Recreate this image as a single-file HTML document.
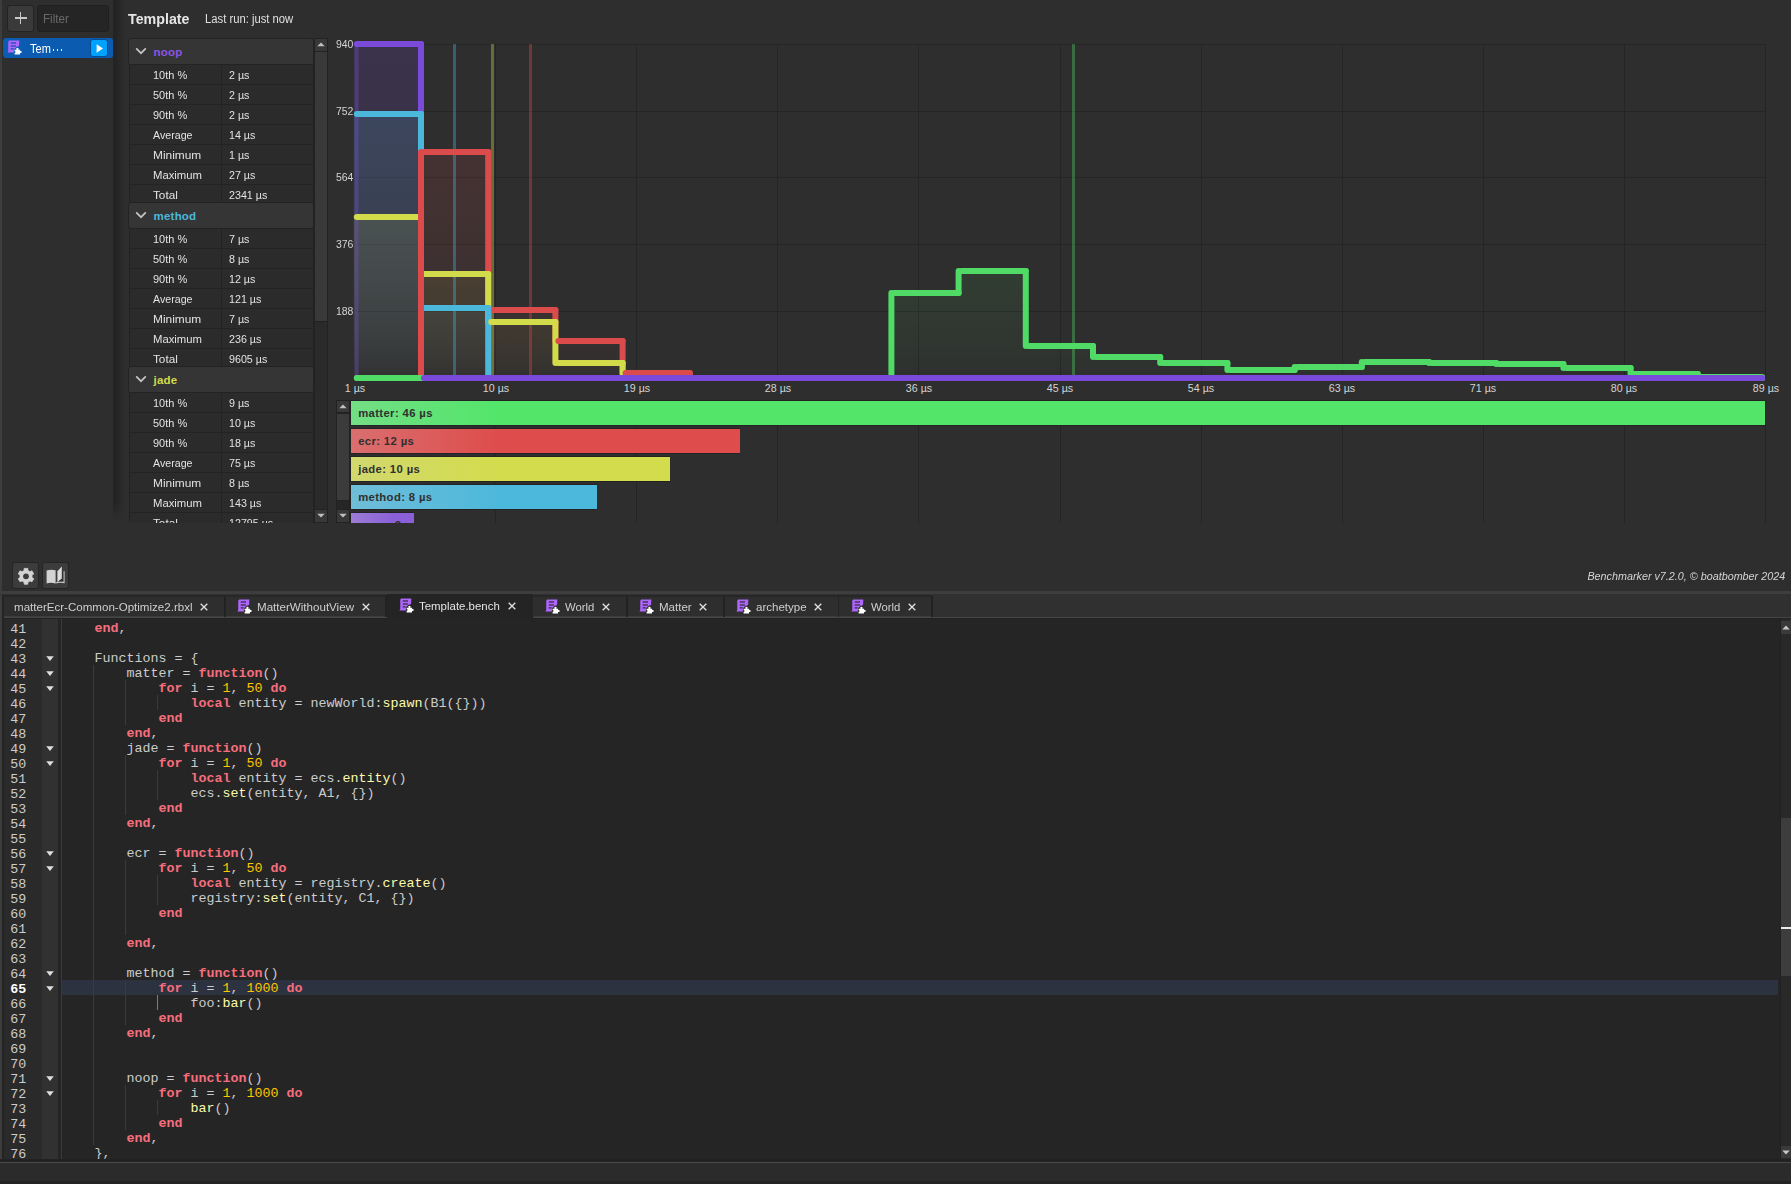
<!DOCTYPE html><html><head><meta charset="utf-8"><title>Benchmarker</title><style>
*{box-sizing:border-box;margin:0;padding:0}
html,body{width:1791px;height:1184px;overflow:hidden;background:#2e2e2e}
body{position:relative;font-family:"Liberation Sans",sans-serif;color:#e0e0e0;font-size:12px}
.a{position:absolute}
.t{position:absolute;white-space:nowrap;line-height:1;transform-origin:0 50%}
.tr{position:absolute;white-space:nowrap;line-height:1;transform-origin:100% 50%}
.tc{position:absolute;white-space:nowrap;line-height:1;transform-origin:50% 50%}
.btn{position:absolute;background:#3a3a3a;border:1px solid #232323;border-radius:3px}
.hdr{position:absolute;left:128px;width:186px;height:26.5px;background:#353535;border:1px solid #232323;border-radius:3px}
.row{position:absolute;left:129px;width:185px;height:21px;background:#2b2b2b;border:1px solid #232323}
.row i{position:absolute;left:91px;top:0;width:1px;height:19px;background:#232323}
.mono{font-family:"Liberation Mono",monospace}
.ln{position:absolute;left:0;white-space:pre;font-family:"Liberation Mono",monospace;font-size:13.33px;line-height:15px;height:15px;color:#cccccc}
.k{color:#f86d7c;font-weight:bold}
.n{color:#ffc600}
.f{color:#fdfbac}
</style></head><body>
<div class="a" style="left:0px;top:0px;width:2px;height:1184px;background:#3d3d3d;"></div>
<div class="a" style="left:113px;top:0px;width:12px;height:520px;background:linear-gradient(to right,rgba(0,0,0,.20),rgba(0,0,0,.24) 18%,rgba(0,0,0,.10) 60%,rgba(0,0,0,0));-webkit-mask-image:linear-gradient(to bottom,#000 0,#000 96.5%,transparent 100%);mask-image:linear-gradient(to bottom,#000 0,#000 96.5%,transparent 100%);"></div>
<div class="btn" style="left:7px;top:5px;width:27px;height:27px"></div>
<div class="a" style="left:14.5px;top:17.4px;width:12px;height:1.6px;background:#c8c8c8;"></div>
<div class="a" style="left:19.7px;top:12.2px;width:1.6px;height:12px;background:#c8c8c8;"></div>
<div class="a" style="left:37px;top:5px;width:72px;height:27px;background:#252525;border:1px solid #202020;border-radius:3px"></div>
<div class="t" style="top:12.65px;font-size:12.5px;color:#6a6a6a;left:43.2px;transform:scaleX(0.93);">Filter</div>
<div class="a" style="left:3px;top:38px;width:110px;height:20px;background:#0b5cb1;border-radius:3px"></div>
<svg class="a" style="left:7.4px;top:40.3px" width="16.0" height="16.0" viewBox="0 0 16 16"><path d="M2.1 0.5H12.35L12.05 6.1L9.2 7.0L6.9 9.5V12.5H0.5L1.25 10.7V1.8Z" fill="#ae66fc"/><rect x="3.7" y="2.45" width="5.3" height="1.1" fill="#084a96"/><rect x="3.7" y="5.45" width="5.2" height="1.1" fill="#084a96"/><rect x="3.7" y="8.35" width="3.0" height="1.1" fill="#084a96"/><path d="M7.6 9.7H9.6A1.15 1.15 0 1 1 11.3 9.7H13V10.9A1.15 1.15 0 1 1 13 12.9V14.5H7.6V12.8A0.9 0.9 0 1 0 7.6 11Z" fill="#fff"/></svg>
<div class="t" style="top:43.40px;font-size:12px;color:#ffffff;left:30px;transform:scaleX(0.92);">Tem</div>
<div class="a" style="left:53.1px;top:49.3px;width:1.3px;height:1.6px;background:#e8f0fa;"></div>
<div class="a" style="left:57.0px;top:49.3px;width:1.3px;height:1.6px;background:#e8f0fa;"></div>
<div class="a" style="left:60.9px;top:49.3px;width:1.3px;height:1.6px;background:#e8f0fa;"></div>
<div class="a" style="left:90px;top:39px;width:18px;height:18px;background:#00a2ff;border:1px solid #0a4a8e;border-radius:3px"></div>
<svg class="a" style="left:95.6px;top:43.5px" width="8" height="9" viewBox="0 0 8 9"><path d="M0.6 0.3L7 4.5L0.6 8.7z" fill="#fff"/></svg>
<div class="t" style="top:11.05px;font-size:15.5px;color:#e6e6e6;font-weight:bold;left:128px;transform:scaleX(0.9193);">Template</div>
<div class="t" style="top:12.80px;font-size:12px;color:#e0e0e0;left:205.2px;transform:scaleX(0.9378);">Last run: just now</div>
<div class="a" style="left:0;top:38px;width:330px;height:485px;overflow:hidden">
<div class="row" style="top:26.3px"><i></i></div>
<div class="t" style="top:31.55px;font-size:11.5px;color:#e2e2e2;left:153px;transform:scaleX(0.9552);">10th %</div>
<div class="t" style="top:31.55px;font-size:11.5px;color:#e2e2e2;left:229px;transform:scaleX(0.93);">2 µs</div>
<div class="row" style="top:46.3px"><i></i></div>
<div class="t" style="top:51.55px;font-size:11.5px;color:#e2e2e2;left:153px;transform:scaleX(0.9552);">50th %</div>
<div class="t" style="top:51.55px;font-size:11.5px;color:#e2e2e2;left:229px;transform:scaleX(0.93);">2 µs</div>
<div class="row" style="top:66.3px"><i></i></div>
<div class="t" style="top:71.55px;font-size:11.5px;color:#e2e2e2;left:153px;transform:scaleX(0.9552);">90th %</div>
<div class="t" style="top:71.55px;font-size:11.5px;color:#e2e2e2;left:229px;transform:scaleX(0.93);">2 µs</div>
<div class="row" style="top:86.3px"><i></i></div>
<div class="t" style="top:91.55px;font-size:11.5px;color:#e2e2e2;left:153px;transform:scaleX(0.9266);">Average</div>
<div class="t" style="top:91.55px;font-size:11.5px;color:#e2e2e2;left:229px;transform:scaleX(0.93);">14 µs</div>
<div class="row" style="top:106.3px"><i></i></div>
<div class="t" style="top:111.55px;font-size:11.5px;color:#e2e2e2;left:153px;transform:scaleX(1.0334);">Minimum</div>
<div class="t" style="top:111.55px;font-size:11.5px;color:#e2e2e2;left:229px;transform:scaleX(0.93);">1 µs</div>
<div class="row" style="top:126.3px"><i></i></div>
<div class="t" style="top:131.55px;font-size:11.5px;color:#e2e2e2;left:153px;transform:scaleX(0.9832);">Maximum</div>
<div class="t" style="top:131.55px;font-size:11.5px;color:#e2e2e2;left:229px;transform:scaleX(0.93);">27 µs</div>
<div class="row" style="top:146.3px"><i></i></div>
<div class="t" style="top:151.55px;font-size:11.5px;color:#e2e2e2;left:153px;transform:scaleX(1.0209);">Total</div>
<div class="t" style="top:151.55px;font-size:11.5px;color:#e2e2e2;left:229px;transform:scaleX(0.93);">2341 µs</div>
<div class="row" style="top:190.3px"><i></i></div>
<div class="t" style="top:195.55px;font-size:11.5px;color:#e2e2e2;left:153px;transform:scaleX(0.9552);">10th %</div>
<div class="t" style="top:195.55px;font-size:11.5px;color:#e2e2e2;left:229px;transform:scaleX(0.93);">7 µs</div>
<div class="row" style="top:210.3px"><i></i></div>
<div class="t" style="top:215.55px;font-size:11.5px;color:#e2e2e2;left:153px;transform:scaleX(0.9552);">50th %</div>
<div class="t" style="top:215.55px;font-size:11.5px;color:#e2e2e2;left:229px;transform:scaleX(0.93);">8 µs</div>
<div class="row" style="top:230.3px"><i></i></div>
<div class="t" style="top:235.55px;font-size:11.5px;color:#e2e2e2;left:153px;transform:scaleX(0.9552);">90th %</div>
<div class="t" style="top:235.55px;font-size:11.5px;color:#e2e2e2;left:229px;transform:scaleX(0.93);">12 µs</div>
<div class="row" style="top:250.3px"><i></i></div>
<div class="t" style="top:255.55px;font-size:11.5px;color:#e2e2e2;left:153px;transform:scaleX(0.9266);">Average</div>
<div class="t" style="top:255.55px;font-size:11.5px;color:#e2e2e2;left:229px;transform:scaleX(0.93);">121 µs</div>
<div class="row" style="top:270.3px"><i></i></div>
<div class="t" style="top:275.55px;font-size:11.5px;color:#e2e2e2;left:153px;transform:scaleX(1.0334);">Minimum</div>
<div class="t" style="top:275.55px;font-size:11.5px;color:#e2e2e2;left:229px;transform:scaleX(0.93);">7 µs</div>
<div class="row" style="top:290.3px"><i></i></div>
<div class="t" style="top:295.55px;font-size:11.5px;color:#e2e2e2;left:153px;transform:scaleX(0.9832);">Maximum</div>
<div class="t" style="top:295.55px;font-size:11.5px;color:#e2e2e2;left:229px;transform:scaleX(0.93);">236 µs</div>
<div class="row" style="top:310.3px"><i></i></div>
<div class="t" style="top:315.55px;font-size:11.5px;color:#e2e2e2;left:153px;transform:scaleX(1.0209);">Total</div>
<div class="t" style="top:315.55px;font-size:11.5px;color:#e2e2e2;left:229px;transform:scaleX(0.93);">9605 µs</div>
<div class="row" style="top:354.3px"><i></i></div>
<div class="t" style="top:359.55px;font-size:11.5px;color:#e2e2e2;left:153px;transform:scaleX(0.9552);">10th %</div>
<div class="t" style="top:359.55px;font-size:11.5px;color:#e2e2e2;left:229px;transform:scaleX(0.93);">9 µs</div>
<div class="row" style="top:374.3px"><i></i></div>
<div class="t" style="top:379.55px;font-size:11.5px;color:#e2e2e2;left:153px;transform:scaleX(0.9552);">50th %</div>
<div class="t" style="top:379.55px;font-size:11.5px;color:#e2e2e2;left:229px;transform:scaleX(0.93);">10 µs</div>
<div class="row" style="top:394.3px"><i></i></div>
<div class="t" style="top:399.55px;font-size:11.5px;color:#e2e2e2;left:153px;transform:scaleX(0.9552);">90th %</div>
<div class="t" style="top:399.55px;font-size:11.5px;color:#e2e2e2;left:229px;transform:scaleX(0.93);">18 µs</div>
<div class="row" style="top:414.3px"><i></i></div>
<div class="t" style="top:419.55px;font-size:11.5px;color:#e2e2e2;left:153px;transform:scaleX(0.9266);">Average</div>
<div class="t" style="top:419.55px;font-size:11.5px;color:#e2e2e2;left:229px;transform:scaleX(0.93);">75 µs</div>
<div class="row" style="top:434.3px"><i></i></div>
<div class="t" style="top:439.55px;font-size:11.5px;color:#e2e2e2;left:153px;transform:scaleX(1.0334);">Minimum</div>
<div class="t" style="top:439.55px;font-size:11.5px;color:#e2e2e2;left:229px;transform:scaleX(0.93);">8 µs</div>
<div class="row" style="top:454.3px"><i></i></div>
<div class="t" style="top:459.55px;font-size:11.5px;color:#e2e2e2;left:153px;transform:scaleX(0.9832);">Maximum</div>
<div class="t" style="top:459.55px;font-size:11.5px;color:#e2e2e2;left:229px;transform:scaleX(0.93);">143 µs</div>
<div class="row" style="top:474.3px"><i></i></div>
<div class="t" style="top:479.55px;font-size:11.5px;color:#e2e2e2;left:153px;transform:scaleX(1.0209);">Total</div>
<div class="t" style="top:479.55px;font-size:11.5px;color:#e2e2e2;left:229px;transform:scaleX(0.93);">12795 µs</div>
<div class="hdr" style="top:0.2px"></div>
<svg class="a" style="left:135px;top:9.0px" width="12" height="8" viewBox="0 0 12 8"><path d="M1.2 1.4L6 6.2L10.8 1.4" stroke="#c4c4c4" stroke-width="1.7" fill="none"/></svg>
<div class="t" style="top:9.15px;font-size:11.5px;color:#8a55e6;font-weight:bold;left:153.6px;letter-spacing:.2px;">noop</div>
<div class="hdr" style="top:164.2px"></div>
<svg class="a" style="left:135px;top:173.0px" width="12" height="8" viewBox="0 0 12 8"><path d="M1.2 1.4L6 6.2L10.8 1.4" stroke="#c4c4c4" stroke-width="1.7" fill="none"/></svg>
<div class="t" style="top:173.15px;font-size:11.5px;color:#4bb7db;font-weight:bold;left:153.6px;letter-spacing:.2px;">method</div>
<div class="hdr" style="top:328.2px"></div>
<svg class="a" style="left:135px;top:337.0px" width="12" height="8" viewBox="0 0 12 8"><path d="M1.2 1.4L6 6.2L10.8 1.4" stroke="#c4c4c4" stroke-width="1.7" fill="none"/></svg>
<div class="t" style="top:337.15px;font-size:11.5px;color:#d2dc4b;font-weight:bold;left:153.6px;letter-spacing:.2px;">jade</div>
</div>
<div class="a" style="left:314.2px;top:38px;width:13.4px;height:484.6px;background:#2a2a2a;border:1px solid #222;"></div>
<div class="a" style="left:314.2px;top:50.8px;width:13.4px;height:271.7px;background:#393939;border:1px solid #222;"></div>
<div class="a" style="left:314.2px;top:38px;width:13.4px;height:13.8px;background:#383838;border:1px solid #222;"></div>
<div class="a" style="left:314.2px;top:508.8px;width:13.4px;height:13.8px;background:#383838;border:1px solid #222;"></div>
<svg class="a" style="left:316.9px;top:42.4px" width="8" height="5" viewBox="0 0 8 5"><path d="M0.3 4.3L4 0.6L7.7 4.3z" fill="#c0c0c0"/></svg>
<svg class="a" style="left:316.9px;top:513.2px" width="8" height="5" viewBox="0 0 8 5"><path d="M0.3 0.7L4 4.4L7.7 0.7z" fill="#c0c0c0"/></svg>
<svg class="a" style="left:0;top:0" width="1791" height="396" viewBox="0 0 1791 396">
<defs>
<linearGradient id="g_red" gradientUnits="userSpaceOnUse" x1="0" y1="44.0" x2="0" y2="378.0"><stop offset="0" stop-color="#db4b4b" stop-opacity="0.1720"/><stop offset="0.15" stop-color="#db4b4b" stop-opacity="0.1560"/><stop offset="0.3" stop-color="#db4b4b" stop-opacity="0.1389"/><stop offset="0.45" stop-color="#db4b4b" stop-opacity="0.1202"/><stop offset="0.6" stop-color="#db4b4b" stop-opacity="0.0993"/><stop offset="0.72" stop-color="#db4b4b" stop-opacity="0.0801"/><stop offset="0.82" stop-color="#db4b4b" stop-opacity="0.0615"/><stop offset="0.9" stop-color="#db4b4b" stop-opacity="0.0432"/><stop offset="0.95" stop-color="#db4b4b" stop-opacity="0.0285"/><stop offset="0.98" stop-color="#db4b4b" stop-opacity="0.0164"/><stop offset="1" stop-color="#db4b4b" stop-opacity="0.0000"/></linearGradient>
<linearGradient id="g_yellow" gradientUnits="userSpaceOnUse" x1="0" y1="44.0" x2="0" y2="378.0"><stop offset="0" stop-color="#d2dc4b" stop-opacity="0.1720"/><stop offset="0.15" stop-color="#d2dc4b" stop-opacity="0.1560"/><stop offset="0.3" stop-color="#d2dc4b" stop-opacity="0.1389"/><stop offset="0.45" stop-color="#d2dc4b" stop-opacity="0.1202"/><stop offset="0.6" stop-color="#d2dc4b" stop-opacity="0.0993"/><stop offset="0.72" stop-color="#d2dc4b" stop-opacity="0.0801"/><stop offset="0.82" stop-color="#d2dc4b" stop-opacity="0.0615"/><stop offset="0.9" stop-color="#d2dc4b" stop-opacity="0.0432"/><stop offset="0.95" stop-color="#d2dc4b" stop-opacity="0.0285"/><stop offset="0.98" stop-color="#d2dc4b" stop-opacity="0.0164"/><stop offset="1" stop-color="#d2dc4b" stop-opacity="0.0000"/></linearGradient>
<linearGradient id="g_cyan" gradientUnits="userSpaceOnUse" x1="0" y1="44.0" x2="0" y2="378.0"><stop offset="0" stop-color="#4bb7db" stop-opacity="0.1720"/><stop offset="0.15" stop-color="#4bb7db" stop-opacity="0.1560"/><stop offset="0.3" stop-color="#4bb7db" stop-opacity="0.1389"/><stop offset="0.45" stop-color="#4bb7db" stop-opacity="0.1202"/><stop offset="0.6" stop-color="#4bb7db" stop-opacity="0.0993"/><stop offset="0.72" stop-color="#4bb7db" stop-opacity="0.0801"/><stop offset="0.82" stop-color="#4bb7db" stop-opacity="0.0615"/><stop offset="0.9" stop-color="#4bb7db" stop-opacity="0.0432"/><stop offset="0.95" stop-color="#4bb7db" stop-opacity="0.0285"/><stop offset="0.98" stop-color="#4bb7db" stop-opacity="0.0164"/><stop offset="1" stop-color="#4bb7db" stop-opacity="0.0000"/></linearGradient>
<linearGradient id="g_green" gradientUnits="userSpaceOnUse" x1="0" y1="44.0" x2="0" y2="378.0"><stop offset="0" stop-color="#4fdb65" stop-opacity="0.1720"/><stop offset="0.15" stop-color="#4fdb65" stop-opacity="0.1560"/><stop offset="0.3" stop-color="#4fdb65" stop-opacity="0.1389"/><stop offset="0.45" stop-color="#4fdb65" stop-opacity="0.1202"/><stop offset="0.6" stop-color="#4fdb65" stop-opacity="0.0993"/><stop offset="0.72" stop-color="#4fdb65" stop-opacity="0.0801"/><stop offset="0.82" stop-color="#4fdb65" stop-opacity="0.0615"/><stop offset="0.9" stop-color="#4fdb65" stop-opacity="0.0432"/><stop offset="0.95" stop-color="#4fdb65" stop-opacity="0.0285"/><stop offset="0.98" stop-color="#4fdb65" stop-opacity="0.0164"/><stop offset="1" stop-color="#4fdb65" stop-opacity="0.0000"/></linearGradient>
<linearGradient id="g_purple" gradientUnits="userSpaceOnUse" x1="0" y1="44.0" x2="0" y2="378.0"><stop offset="0" stop-color="#7a4bdb" stop-opacity="0.1720"/><stop offset="0.15" stop-color="#7a4bdb" stop-opacity="0.1560"/><stop offset="0.3" stop-color="#7a4bdb" stop-opacity="0.1389"/><stop offset="0.45" stop-color="#7a4bdb" stop-opacity="0.1202"/><stop offset="0.6" stop-color="#7a4bdb" stop-opacity="0.0993"/><stop offset="0.72" stop-color="#7a4bdb" stop-opacity="0.0801"/><stop offset="0.82" stop-color="#7a4bdb" stop-opacity="0.0615"/><stop offset="0.9" stop-color="#7a4bdb" stop-opacity="0.0432"/><stop offset="0.95" stop-color="#7a4bdb" stop-opacity="0.0285"/><stop offset="0.98" stop-color="#7a4bdb" stop-opacity="0.0164"/><stop offset="1" stop-color="#7a4bdb" stop-opacity="0.0000"/></linearGradient>
<clipPath id="cc"><rect x="353" y="36" width="1412" height="350"/></clipPath>
</defs>
<rect x="355" y="44" width="1411" height="1" fill="#252525"/>
<rect x="355" y="111" width="1411" height="1" fill="#252525"/>
<rect x="355" y="177" width="1411" height="1" fill="#252525"/>
<rect x="355" y="244" width="1411" height="1" fill="#252525"/>
<rect x="355" y="311" width="1411" height="1" fill="#252525"/>
<rect x="495" y="44" width="1" height="334" fill="#252525"/>
<rect x="636" y="44" width="1" height="334" fill="#252525"/>
<rect x="777" y="44" width="1" height="334" fill="#252525"/>
<rect x="918" y="44" width="1" height="334" fill="#252525"/>
<rect x="1060" y="44" width="1" height="334" fill="#252525"/>
<rect x="1201" y="44" width="1" height="334" fill="#252525"/>
<rect x="1342" y="44" width="1" height="334" fill="#252525"/>
<rect x="1483" y="44" width="1" height="334" fill="#252525"/>
<rect x="1624" y="44" width="1" height="334" fill="#252525"/>
<rect x="1765" y="44" width="1" height="334" fill="#252525"/>
<g clip-path="url(#cc)">
<rect x="353.8" y="44" width="67.20" height="334.0" fill="url(#g_purple)"/>
<rect x="353.8" y="114" width="67.20" height="264.0" fill="url(#g_cyan)"/>
<rect x="353.8" y="217" width="67.20" height="161.0" fill="url(#g_yellow)"/>
<rect x="421.0" y="152" width="67.20" height="226.0" fill="url(#g_red)"/>
<rect x="421.0" y="274" width="67.20" height="104.0" fill="url(#g_yellow)"/>
<rect x="421.0" y="308" width="67.20" height="70.0" fill="url(#g_cyan)"/>
<rect x="488.2" y="310" width="67.20" height="68.0" fill="url(#g_red)"/>
<rect x="488.2" y="322" width="67.20" height="56.0" fill="url(#g_yellow)"/>
<rect x="555.4" y="341" width="67.20" height="37.0" fill="url(#g_red)"/>
<rect x="555.4" y="363" width="67.20" height="15.0" fill="url(#g_yellow)"/>
<rect x="622.6" y="373" width="67.20" height="5.0" fill="url(#g_red)"/>
<rect x="891.4" y="293" width="67.20" height="85.0" fill="url(#g_green)"/>
<rect x="958.6" y="271" width="67.20" height="107.0" fill="url(#g_green)"/>
<rect x="1025.8" y="346" width="67.20" height="32.0" fill="url(#g_green)"/>
<rect x="1093.0" y="357" width="67.20" height="21.0" fill="url(#g_green)"/>
<rect x="1160.2" y="363" width="67.20" height="15.0" fill="url(#g_green)"/>
<rect x="1227.4" y="370" width="67.20" height="8.0" fill="url(#g_green)"/>
<rect x="1294.6" y="367" width="67.20" height="11.0" fill="url(#g_green)"/>
<rect x="1361.8" y="362" width="67.20" height="16.0" fill="url(#g_green)"/>
<rect x="1429.0" y="363" width="67.20" height="15.0" fill="url(#g_green)"/>
<rect x="1496.2" y="364" width="67.20" height="14.0" fill="url(#g_green)"/>
<rect x="1563.4" y="368" width="67.20" height="10.0" fill="url(#g_green)"/>
<rect x="1630.6" y="374" width="67.20" height="4.0" fill="url(#g_green)"/>
<rect x="529.0" y="44" width="3" height="334" fill="#db4b4b" opacity="0.36"/>
<rect x="491.0" y="44" width="3" height="334" fill="#d2dc4b" opacity="0.36"/>
<rect x="453.0" y="44" width="3" height="334" fill="#4bb7db" opacity="0.36"/>
<rect x="1072.0" y="44" width="3" height="334" fill="#4fdb65" opacity="0.36"/>
<rect x="354.7" y="44" width="3.8" height="334" fill="#7a4bdb" opacity="0.36"/>
<rect x="353.8" y="41.0" width="70.2" height="6.0" rx="3" fill="#7a4bdb"/>
<rect x="418.0" y="41.0" width="6.0" height="340.0" rx="3" fill="#7a4bdb"/>
<rect x="353.8" y="111.0" width="70.2" height="6.0" rx="3" fill="#4bb7db"/>
<rect x="418.0" y="111.0" width="6.0" height="200.0" rx="3" fill="#4bb7db"/>
<rect x="421.0" y="149.0" width="70.2" height="6.0" rx="3" fill="#db4b4b"/>
<rect x="485.2" y="149.0" width="6.0" height="164.0" rx="3" fill="#db4b4b"/>
<rect x="353.8" y="214.0" width="70.2" height="6.0" rx="3" fill="#d2dc4b"/>
<rect x="418.0" y="214.0" width="6.0" height="63.0" rx="3" fill="#d2dc4b"/>
<rect x="958.6" y="268.0" width="70.2" height="6.0" rx="3" fill="#4fdb65"/>
<rect x="1022.8" y="268.0" width="6.0" height="81.0" rx="3" fill="#4fdb65"/>
<rect x="421.0" y="271.0" width="70.2" height="6.0" rx="3" fill="#d2dc4b"/>
<rect x="485.2" y="271.0" width="6.0" height="54.0" rx="3" fill="#d2dc4b"/>
<rect x="891.4" y="290.0" width="70.2" height="6.0" rx="3" fill="#4fdb65"/>
<rect x="955.6" y="268.0" width="6.0" height="28.0" rx="3" fill="#4fdb65"/>
<rect x="488.2" y="307.0" width="70.2" height="6.0" rx="3" fill="#db4b4b"/>
<rect x="552.4" y="307.0" width="6.0" height="37.0" rx="3" fill="#db4b4b"/>
<rect x="421.0" y="305.0" width="70.2" height="6.0" rx="3" fill="#4bb7db"/>
<rect x="485.2" y="305.0" width="6.0" height="76.0" rx="3" fill="#4bb7db"/>
<rect x="488.2" y="319.0" width="70.2" height="6.0" rx="3" fill="#d2dc4b"/>
<rect x="552.4" y="319.0" width="6.0" height="47.0" rx="3" fill="#d2dc4b"/>
<rect x="555.4" y="338.0" width="70.2" height="6.0" rx="3" fill="#db4b4b"/>
<rect x="619.6" y="338.0" width="6.0" height="38.0" rx="3" fill="#db4b4b"/>
<rect x="1025.8" y="343.0" width="70.2" height="6.0" rx="3" fill="#4fdb65"/>
<rect x="1090.0" y="343.0" width="6.0" height="17.0" rx="3" fill="#4fdb65"/>
<rect x="1093.0" y="354.0" width="70.2" height="6.0" rx="3" fill="#4fdb65"/>
<rect x="1157.2" y="354.0" width="6.0" height="12.0" rx="3" fill="#4fdb65"/>
<rect x="1361.8" y="359.0" width="70.2" height="6.0" rx="3" fill="#4fdb65"/>
<rect x="1426.0" y="359.0" width="6.0" height="7.0" rx="3" fill="#4fdb65"/>
<rect x="555.4" y="360.0" width="70.2" height="6.0" rx="3" fill="#d2dc4b"/>
<rect x="619.6" y="360.0" width="6.0" height="21.0" rx="3" fill="#d2dc4b"/>
<rect x="1160.2" y="360.0" width="70.2" height="6.0" rx="3" fill="#4fdb65"/>
<rect x="1294.6" y="364.0" width="70.2" height="6.0" rx="3" fill="#4fdb65"/>
<rect x="1429.0" y="360.0" width="70.2" height="6.0" rx="3" fill="#4fdb65"/>
<rect x="1496.2" y="361.0" width="70.2" height="6.0" rx="3" fill="#4fdb65"/>
<rect x="1224.4" y="360.0" width="6.0" height="13.0" rx="3" fill="#4fdb65"/>
<rect x="1358.8" y="359.0" width="6.0" height="11.0" rx="3" fill="#4fdb65"/>
<rect x="1493.2" y="360.0" width="6.0" height="7.0" rx="3" fill="#4fdb65"/>
<rect x="1560.4" y="361.0" width="6.0" height="10.0" rx="3" fill="#4fdb65"/>
<rect x="1227.4" y="367.0" width="70.2" height="6.0" rx="3" fill="#4fdb65"/>
<rect x="1563.4" y="365.0" width="70.2" height="6.0" rx="3" fill="#4fdb65"/>
<rect x="1291.6" y="364.0" width="6.0" height="9.0" rx="3" fill="#4fdb65"/>
<rect x="1627.6" y="365.0" width="6.0" height="12.0" rx="3" fill="#4fdb65"/>
<rect x="622.6" y="370.0" width="70.2" height="6.0" rx="3" fill="#db4b4b"/>
<rect x="686.8" y="370.0" width="6.0" height="11.0" rx="3" fill="#db4b4b"/>
<rect x="1630.6" y="371.0" width="70.2" height="6.0" rx="3" fill="#4fdb65"/>
<rect x="1697.8" y="374.0" width="67.2" height="6.0" rx="3" fill="#4fdb65"/>
<rect x="1694.8" y="371.0" width="6.0" height="9.0" rx="3" fill="#4fdb65"/>
<rect x="353.8" y="375.0" width="70.2" height="6.0" rx="3" fill="#db4b4b"/>
<rect x="689.8" y="375.0" width="1075.2" height="6.0" rx="3" fill="#db4b4b"/>
<rect x="418.0" y="149.0" width="6.0" height="232.0" rx="3" fill="#db4b4b"/>
<rect x="622.6" y="375.0" width="1142.4" height="6.0" rx="3" fill="#d2dc4b"/>
<rect x="488.2" y="375.0" width="1276.8" height="6.0" rx="3" fill="#4bb7db"/>
<rect x="353.8" y="375.0" width="540.6" height="6.0" rx="3" fill="#4fdb65"/>
<rect x="888.4" y="290.0" width="6.0" height="91.0" rx="3" fill="#4fdb65"/>
<rect x="421.0" y="375.0" width="1344.0" height="6.0" rx="3" fill="#7a4bdb"/>
</g>
</svg>
<div class="tr" style="top:39.10px;font-size:11px;color:#d4d4d4;right:1437.4px;transform:scaleX(0.95);">940</div>
<div class="tr" style="top:106.10px;font-size:11px;color:#d4d4d4;right:1437.4px;transform:scaleX(0.95);">752</div>
<div class="tr" style="top:172.10px;font-size:11px;color:#d4d4d4;right:1437.4px;transform:scaleX(0.95);">564</div>
<div class="tr" style="top:239.10px;font-size:11px;color:#d4d4d4;right:1437.4px;transform:scaleX(0.95);">376</div>
<div class="tr" style="top:306.10px;font-size:11px;color:#d4d4d4;right:1437.4px;transform:scaleX(0.95);">188</div>
<div class="tc" style="top:383.30px;font-size:11px;color:#d4d4d4;left:354.5px;transform:translateX(-50%) scaleX(0.97);">1 µs</div>
<div class="tc" style="top:383.30px;font-size:11px;color:#d4d4d4;left:495.6px;transform:translateX(-50%) scaleX(0.97);">10 µs</div>
<div class="tc" style="top:383.30px;font-size:11px;color:#d4d4d4;left:636.7px;transform:translateX(-50%) scaleX(0.97);">19 µs</div>
<div class="tc" style="top:383.30px;font-size:11px;color:#d4d4d4;left:777.8px;transform:translateX(-50%) scaleX(0.97);">28 µs</div>
<div class="tc" style="top:383.30px;font-size:11px;color:#d4d4d4;left:918.9px;transform:translateX(-50%) scaleX(0.97);">36 µs</div>
<div class="tc" style="top:383.30px;font-size:11px;color:#d4d4d4;left:1060.0px;transform:translateX(-50%) scaleX(0.97);">45 µs</div>
<div class="tc" style="top:383.30px;font-size:11px;color:#d4d4d4;left:1201.1px;transform:translateX(-50%) scaleX(0.97);">54 µs</div>
<div class="tc" style="top:383.30px;font-size:11px;color:#d4d4d4;left:1342.1999999999998px;transform:translateX(-50%) scaleX(0.97);">63 µs</div>
<div class="tc" style="top:383.30px;font-size:11px;color:#d4d4d4;left:1483.3px;transform:translateX(-50%) scaleX(0.97);">71 µs</div>
<div class="tc" style="top:383.30px;font-size:11px;color:#d4d4d4;left:1624.3999999999999px;transform:translateX(-50%) scaleX(0.97);">80 µs</div>
<div class="tc" style="top:383.30px;font-size:11px;color:#d4d4d4;left:1765.5px;transform:translateX(-50%) scaleX(0.97);">89 µs</div>
<div class="a" style="left:330px;top:396px;width:1461px;height:127px;overflow:hidden">
<div class="a" style="left:24px;top:5px;width:1px;height:122px;background:#242424;"></div>
<div class="a" style="left:165px;top:5px;width:1px;height:122px;background:#242424;"></div>
<div class="a" style="left:306px;top:5px;width:1px;height:122px;background:#242424;"></div>
<div class="a" style="left:447px;top:5px;width:1px;height:122px;background:#242424;"></div>
<div class="a" style="left:588px;top:5px;width:1px;height:122px;background:#242424;"></div>
<div class="a" style="left:730px;top:5px;width:1px;height:122px;background:#242424;"></div>
<div class="a" style="left:871px;top:5px;width:1px;height:122px;background:#242424;"></div>
<div class="a" style="left:1012px;top:5px;width:1px;height:122px;background:#242424;"></div>
<div class="a" style="left:1153px;top:5px;width:1px;height:122px;background:#242424;"></div>
<div class="a" style="left:1294px;top:5px;width:1px;height:122px;background:#242424;"></div>
<div class="a" style="left:1435px;top:5px;width:1px;height:122px;background:#242424;"></div>
<div class="a" style="left:20px;top:4px;width:1415.3px;height:26px;background:#232323"></div>
<div class="a" style="left:21px;top:5px;width:1414px;height:24px;background:linear-gradient(to right,rgba(205,205,205,.27),rgba(205,205,205,0) 150px),#52e56a"></div>
<div class="t" style="left:28.19999999999999px;top:12.1px;font-size:11.3px;font-weight:bold;color:#303030;letter-spacing:.36px">matter: 46 µs</div>
<div class="a" style="left:20px;top:32px;width:390.3px;height:26px;background:#232323"></div>
<div class="a" style="left:21px;top:33px;width:389px;height:24px;background:linear-gradient(to right,rgba(205,205,205,.27),rgba(205,205,205,0) 150px),#de4c4c"></div>
<div class="t" style="left:28.19999999999999px;top:40.1px;font-size:11.3px;font-weight:bold;color:#303030;letter-spacing:.36px">ecr: 12 µs</div>
<div class="a" style="left:20px;top:60px;width:320.3px;height:26px;background:#232323"></div>
<div class="a" style="left:21px;top:61px;width:319px;height:24px;background:linear-gradient(to right,rgba(205,205,205,.27),rgba(205,205,205,0) 150px),#d3dc4c"></div>
<div class="t" style="left:28.19999999999999px;top:68.1px;font-size:11.3px;font-weight:bold;color:#303030;letter-spacing:.36px">jade: 10 µs</div>
<div class="a" style="left:20px;top:88px;width:247.3px;height:26px;background:#232323"></div>
<div class="a" style="left:21px;top:89px;width:246px;height:24px;background:linear-gradient(to right,rgba(205,205,205,.27),rgba(205,205,205,0) 150px),#4cb8dc"></div>
<div class="t" style="left:28.19999999999999px;top:96.1px;font-size:11.3px;font-weight:bold;color:#303030;letter-spacing:.36px">method: 8 µs</div>
<div class="a" style="left:20px;top:116px;width:64.3px;height:26px;background:#232323"></div>
<div class="a" style="left:21px;top:117px;width:63px;height:24px;background:linear-gradient(to right,rgba(205,205,205,.27),rgba(205,205,205,0) 44px),#8a5fd8"></div>
<div class="t" style="left:28.19999999999999px;top:124.1px;font-size:11.3px;font-weight:bold;color:#303030;letter-spacing:.36px">noop: 2 µs</div>
</div>
<div class="a" style="left:336px;top:400.3px;width:13.6px;height:122.30000000000001px;background:#262626;border:1px solid #222;"></div>
<div class="a" style="left:336px;top:412.5px;width:13.6px;height:88.0px;background:#3b3b3b;border:1px solid #222;"></div>
<div class="a" style="left:336px;top:400.3px;width:13.6px;height:13px;background:#383838;border:1px solid #222;"></div>
<div class="a" style="left:336px;top:508.8px;width:13.6px;height:13.8px;background:#383838;border:1px solid #222;"></div>
<svg class="a" style="left:338.8px;top:404.3px" width="8" height="5" viewBox="0 0 8 5"><path d="M0.3 4.3L4 0.6L7.7 4.3z" fill="#c0c0c0"/></svg>
<svg class="a" style="left:338.8px;top:513.2px" width="8" height="5" viewBox="0 0 8 5"><path d="M0.3 0.7L4 4.4L7.7 0.7z" fill="#c0c0c0"/></svg>
<div class="btn" style="left:12px;top:562px;width:27px;height:27px;background:#3c3c3c;border-color:#242424"></div>
<div class="btn" style="left:42px;top:562px;width:27px;height:27px;background:#3c3c3c;border-color:#242424"></div>
<svg class="a" style="left:12.9px;top:563px" width="26" height="26" viewBox="0 0 26 26"><path d="M11.05 7.52L11.23 5.40L14.77 5.40L14.95 7.52L17.03 8.72L18.96 7.82L20.73 10.88L18.98 12.09L18.98 14.51L20.73 15.72L18.96 18.78L17.03 17.88L14.95 19.08L14.77 21.20L11.23 21.20L11.05 19.08L8.97 17.88L7.04 18.78L5.27 15.72L7.02 14.51L7.02 12.09L5.27 10.88L7.04 7.82L8.97 8.72Z" fill="#d4d4d4" stroke="#d4d4d4" stroke-width="0.8" stroke-linejoin="round"/><circle cx="13" cy="13.3" r="2.9" fill="#3c3c3c"/></svg>
<svg class="a" style="left:42.3px;top:562.3px" width="26" height="26" viewBox="0 0 26 26"><path d="M4.6 8.4Q9 7 13.6 8.2V21.6Q9 20.2 4.6 21.4Z" fill="#d2d2d2"/><path d="M15.4 9.2L19.8 4.6V16.6L15.4 20.2Z" fill="#dcdcdc"/><path d="M13.6 21.6Q18 20.0 22.6 21.2V9.2L21.6 8.9V19.8Q17.6 19.2 13.6 20.6Z" fill="#c8c8c8"/><path d="M20.2 8.2L21.0 8.4V19.2H16.4L20.2 16.8Z" fill="#303030"/></svg>
<div class="tr" style="top:571.05px;font-size:11.5px;color:#d4d4d4;font-style:italic;right:5.7999999999999545px;transform:scaleX(0.9364);">Benchmarker v7.2.0, © boatbomber 2024</div>
<div class="a" style="left:0px;top:590.6px;width:1791px;height:3.6px;background:#3e3e3e;"></div>
<div class="a" style="left:0px;top:594.2px;width:1791px;height:23px;background:#303030;"></div>
<div class="a" style="left:0px;top:616.5px;width:1791px;height:1px;background:#454545;"></div>
<div class="a" style="left:0px;top:617.5px;width:1791px;height:1.5px;background:#222;"></div>
<div class="a" style="left:0px;top:594.5px;width:2px;height:600px;background:#3d3d3d;"></div>
<div class="a" style="left:2px;top:594.5px;width:1.5px;height:567px;background:#242424;"></div>
<div class="a" style="left:3.5px;top:594.5px;width:928px;height:2.5px;background:#272727;"></div>
<div class="a" style="left:3.5px;top:597px;width:220.8px;height:20px;background:#2e2e2e;border-bottom:1.2px solid #3d3d3d;"></div>
<div class="t" style="top:601.50px;font-size:11px;color:#cfcfcf;left:14.0px;transform:scaleX(1.0505);">matterEcr-Common-Optimize2.rbxl</div>
<svg class="a" style="left:200px;top:603.3px" width="8" height="8" viewBox="0 0 8 8"><path d="M0.7 0.7L7.3 7.3M7.3 0.7L0.7 7.3" stroke="#e0e0e0" stroke-width="1.3"/></svg>
<div class="a" style="left:224.3px;top:596px;width:1.6px;height:21px;background:#222;"></div>
<div class="a" style="left:226.3px;top:597px;width:159.0px;height:20px;background:#2e2e2e;border-bottom:1.2px solid #3d3d3d;"></div>
<svg class="a" style="left:237.20000000000002px;top:599.3px" width="16.0" height="16.0" viewBox="0 0 16 16"><path d="M2.1 0.5H12.35L12.05 6.1L9.2 7.0L6.9 9.5V12.5H0.5L1.25 10.7V1.8Z" fill="#ae66fc"/><rect x="3.7" y="2.45" width="5.3" height="1.1" fill="#222"/><rect x="3.7" y="5.45" width="5.2" height="1.1" fill="#222"/><rect x="3.7" y="8.35" width="3.0" height="1.1" fill="#222"/><path d="M7.6 9.7H9.6A1.15 1.15 0 1 1 11.3 9.7H13V10.9A1.15 1.15 0 1 1 13 12.9V14.5H7.6V12.8A0.9 0.9 0 1 0 7.6 11Z" fill="#fff"/></svg>
<div class="t" style="top:601.50px;font-size:11px;color:#cfcfcf;left:257.0px;transform:scaleX(1.0531);">MatterWithoutView</div>
<svg class="a" style="left:362px;top:603.3px" width="8" height="8" viewBox="0 0 8 8"><path d="M0.7 0.7L7.3 7.3M7.3 0.7L0.7 7.3" stroke="#e0e0e0" stroke-width="1.3"/></svg>
<div class="a" style="left:385.3px;top:596px;width:1.6px;height:21px;background:#222;"></div>
<div class="a" style="left:386.8px;top:594.3px;width:146.40000000000003px;height:25px;background:#242424;"></div>
<svg class="a" style="left:399.2px;top:598.3px" width="16.0" height="16.0" viewBox="0 0 16 16"><path d="M2.1 0.5H12.35L12.05 6.1L9.2 7.0L6.9 9.5V12.5H0.5L1.25 10.7V1.8Z" fill="#ae66fc"/><rect x="3.7" y="2.45" width="5.3" height="1.1" fill="#222"/><rect x="3.7" y="5.45" width="5.2" height="1.1" fill="#222"/><rect x="3.7" y="8.35" width="3.0" height="1.1" fill="#222"/><path d="M7.6 9.7H9.6A1.15 1.15 0 1 1 11.3 9.7H13V10.9A1.15 1.15 0 1 1 13 12.9V14.5H7.6V12.8A0.9 0.9 0 1 0 7.6 11Z" fill="#fff"/></svg>
<div class="t" style="top:600.50px;font-size:11px;color:#e4e4e4;left:419.1px;transform:scaleX(1.0404);">Template.bench</div>
<svg class="a" style="left:508px;top:602.3px" width="8" height="8" viewBox="0 0 8 8"><path d="M0.7 0.7L7.3 7.3M7.3 0.7L0.7 7.3" stroke="#e0e0e0" stroke-width="1.3"/></svg>
<div class="a" style="left:534.2px;top:597px;width:92.0px;height:20px;background:#2e2e2e;border-bottom:1.2px solid #3d3d3d;"></div>
<svg class="a" style="left:545.1999999999999px;top:599.3px" width="16.0" height="16.0" viewBox="0 0 16 16"><path d="M2.1 0.5H12.35L12.05 6.1L9.2 7.0L6.9 9.5V12.5H0.5L1.25 10.7V1.8Z" fill="#ae66fc"/><rect x="3.7" y="2.45" width="5.3" height="1.1" fill="#222"/><rect x="3.7" y="5.45" width="5.2" height="1.1" fill="#222"/><rect x="3.7" y="8.35" width="3.0" height="1.1" fill="#222"/><path d="M7.6 9.7H9.6A1.15 1.15 0 1 1 11.3 9.7H13V10.9A1.15 1.15 0 1 1 13 12.9V14.5H7.6V12.8A0.9 0.9 0 1 0 7.6 11Z" fill="#fff"/></svg>
<div class="t" style="top:601.50px;font-size:11px;color:#cfcfcf;left:564.5px;transform:scaleX(1.0306);">World</div>
<svg class="a" style="left:602px;top:603.3px" width="8" height="8" viewBox="0 0 8 8"><path d="M0.7 0.7L7.3 7.3M7.3 0.7L0.7 7.3" stroke="#e0e0e0" stroke-width="1.3"/></svg>
<div class="a" style="left:626.2px;top:596px;width:1.6px;height:21px;background:#222;"></div>
<div class="a" style="left:628px;top:597px;width:95.20000000000005px;height:20px;background:#2e2e2e;border-bottom:1.2px solid #3d3d3d;"></div>
<svg class="a" style="left:639.1999999999999px;top:599.3px" width="16.0" height="16.0" viewBox="0 0 16 16"><path d="M2.1 0.5H12.35L12.05 6.1L9.2 7.0L6.9 9.5V12.5H0.5L1.25 10.7V1.8Z" fill="#ae66fc"/><rect x="3.7" y="2.45" width="5.3" height="1.1" fill="#222"/><rect x="3.7" y="5.45" width="5.2" height="1.1" fill="#222"/><rect x="3.7" y="8.35" width="3.0" height="1.1" fill="#222"/><path d="M7.6 9.7H9.6A1.15 1.15 0 1 1 11.3 9.7H13V10.9A1.15 1.15 0 1 1 13 12.9V14.5H7.6V12.8A0.9 0.9 0 1 0 7.6 11Z" fill="#fff"/></svg>
<div class="t" style="top:601.50px;font-size:11px;color:#cfcfcf;left:658.8px;transform:scaleX(1.0489);">Matter</div>
<svg class="a" style="left:699px;top:603.3px" width="8" height="8" viewBox="0 0 8 8"><path d="M0.7 0.7L7.3 7.3M7.3 0.7L0.7 7.3" stroke="#e0e0e0" stroke-width="1.3"/></svg>
<div class="a" style="left:723.2px;top:596px;width:1.6px;height:21px;background:#222;"></div>
<div class="a" style="left:725px;top:597px;width:112.60000000000002px;height:20px;background:#2e2e2e;border-bottom:1.2px solid #3d3d3d;"></div>
<svg class="a" style="left:736.1999999999999px;top:599.3px" width="16.0" height="16.0" viewBox="0 0 16 16"><path d="M2.1 0.5H12.35L12.05 6.1L9.2 7.0L6.9 9.5V12.5H0.5L1.25 10.7V1.8Z" fill="#ae66fc"/><rect x="3.7" y="2.45" width="5.3" height="1.1" fill="#222"/><rect x="3.7" y="5.45" width="5.2" height="1.1" fill="#222"/><rect x="3.7" y="8.35" width="3.0" height="1.1" fill="#222"/><path d="M7.6 9.7H9.6A1.15 1.15 0 1 1 11.3 9.7H13V10.9A1.15 1.15 0 1 1 13 12.9V14.5H7.6V12.8A0.9 0.9 0 1 0 7.6 11Z" fill="#fff"/></svg>
<div class="t" style="top:601.50px;font-size:11px;color:#cfcfcf;left:755.9px;transform:scaleX(1.0474);">archetype</div>
<svg class="a" style="left:814px;top:603.3px" width="8" height="8" viewBox="0 0 8 8"><path d="M0.7 0.7L7.3 7.3M7.3 0.7L0.7 7.3" stroke="#e0e0e0" stroke-width="1.3"/></svg>
<div class="a" style="left:837.6px;top:596px;width:1.6px;height:21px;background:#222;"></div>
<div class="a" style="left:839.4px;top:597px;width:92.0px;height:20px;background:#2e2e2e;border-bottom:1.2px solid #3d3d3d;"></div>
<svg class="a" style="left:851.1999999999999px;top:599.3px" width="16.0" height="16.0" viewBox="0 0 16 16"><path d="M2.1 0.5H12.35L12.05 6.1L9.2 7.0L6.9 9.5V12.5H0.5L1.25 10.7V1.8Z" fill="#ae66fc"/><rect x="3.7" y="2.45" width="5.3" height="1.1" fill="#222"/><rect x="3.7" y="5.45" width="5.2" height="1.1" fill="#222"/><rect x="3.7" y="8.35" width="3.0" height="1.1" fill="#222"/><path d="M7.6 9.7H9.6A1.15 1.15 0 1 1 11.3 9.7H13V10.9A1.15 1.15 0 1 1 13 12.9V14.5H7.6V12.8A0.9 0.9 0 1 0 7.6 11Z" fill="#fff"/></svg>
<div class="t" style="top:601.50px;font-size:11px;color:#cfcfcf;left:870.9px;transform:scaleX(1.0306);">World</div>
<svg class="a" style="left:908px;top:603.3px" width="8" height="8" viewBox="0 0 8 8"><path d="M0.7 0.7L7.3 7.3M7.3 0.7L0.7 7.3" stroke="#e0e0e0" stroke-width="1.3"/></svg>
<div class="a" style="left:931.4px;top:596px;width:1.6px;height:21px;background:#222;"></div>
<div class="a" style="left:3.5px;top:619px;width:1788px;height:540px;background:#252525;"></div>
<div class="a" style="left:3.5px;top:619px;width:38.5px;height:540px;background:#2a2a2a;"></div>
<div class="a" style="left:42px;top:619px;width:15.5px;height:540px;background:#313131;"></div>
<div class="a" style="left:61px;top:619px;width:1px;height:540px;background:#3a3a3a;"></div>
<div class="a" style="left:0px;top:1159px;width:1791px;height:2.6px;background:#222;"></div>
<div class="a" style="left:0px;top:1161.6px;width:1791px;height:1.2px;background:#4a4a4a;"></div>
<div class="a" style="left:0px;top:1162.8px;width:1791px;height:18.2px;background:#2b2b2b;"></div>
<div class="a" style="left:0px;top:1181px;width:1791px;height:3px;background:#232323;"></div>
<div class="a" style="left:62px;top:980.0px;width:1716px;height:15px;background:#2d3241;"></div>
<div class="a" style="left:93px;top:665.0px;width:1px;height:480.0px;background:#3a3a3a;"></div>
<div class="a" style="left:125px;top:680.0px;width:1px;height:45.0px;background:#3a3a3a;"></div>
<div class="a" style="left:125px;top:755.0px;width:1px;height:60.0px;background:#3a3a3a;"></div>
<div class="a" style="left:125px;top:860.0px;width:1px;height:75.0px;background:#3a3a3a;"></div>
<div class="a" style="left:125px;top:980.0px;width:1px;height:45.0px;background:#3a3a3a;"></div>
<div class="a" style="left:125px;top:1085.0px;width:1px;height:45.0px;background:#3a3a3a;"></div>
<div class="a" style="left:157px;top:695.0px;width:1px;height:15.0px;background:#3a3a3a;"></div>
<div class="a" style="left:157px;top:770.0px;width:1px;height:30.0px;background:#3a3a3a;"></div>
<div class="a" style="left:157px;top:875.0px;width:1px;height:30.0px;background:#3a3a3a;"></div>
<div class="a" style="left:157px;top:995.0px;width:1px;height:15.0px;background:#7c7c7c;"></div>
<div class="a" style="left:157px;top:1100.0px;width:1px;height:15.0px;background:#3a3a3a;"></div>
<div class="a" style="left:0;top:619px;width:1780px;height:540px;overflow:hidden">
<div class="ln" style="left:10.2px;top:2.5px">41</div>
<div class="ln" style="left:62.6px;top:1.5px">    <span class="k">end</span>,</div>
<div class="ln" style="left:10.2px;top:17.5px">42</div>
<div class="ln" style="left:10.2px;top:32.5px">43</div>
<svg class="a" style="left:45.7px;top:36.7px" width="8" height="5" viewBox="0 0 8 5"><path d="M0.2 0.2H7.8L4 4.9Z" fill="#dedede"/></svg>
<div class="ln" style="left:62.6px;top:31.5px">    Functions = {</div>
<div class="ln" style="left:10.2px;top:47.5px">44</div>
<svg class="a" style="left:45.7px;top:51.7px" width="8" height="5" viewBox="0 0 8 5"><path d="M0.2 0.2H7.8L4 4.9Z" fill="#dedede"/></svg>
<div class="ln" style="left:62.6px;top:46.5px">        matter = <span class="k">function</span>()</div>
<div class="ln" style="left:10.2px;top:62.5px">45</div>
<svg class="a" style="left:45.7px;top:66.7px" width="8" height="5" viewBox="0 0 8 5"><path d="M0.2 0.2H7.8L4 4.9Z" fill="#dedede"/></svg>
<div class="ln" style="left:62.6px;top:61.5px">            <span class="k">for</span> i = <span class="n">1</span>, <span class="n">50</span> <span class="k">do</span></div>
<div class="ln" style="left:10.2px;top:77.5px">46</div>
<div class="ln" style="left:62.6px;top:76.5px">                <span class="k">local</span> entity = newWorld:<span class="f">spawn</span>(B1({}))</div>
<div class="ln" style="left:10.2px;top:92.5px">47</div>
<div class="ln" style="left:62.6px;top:91.5px">            <span class="k">end</span></div>
<div class="ln" style="left:10.2px;top:107.5px">48</div>
<div class="ln" style="left:62.6px;top:106.5px">        <span class="k">end</span>,</div>
<div class="ln" style="left:10.2px;top:122.5px">49</div>
<svg class="a" style="left:45.7px;top:126.7px" width="8" height="5" viewBox="0 0 8 5"><path d="M0.2 0.2H7.8L4 4.9Z" fill="#dedede"/></svg>
<div class="ln" style="left:62.6px;top:121.5px">        jade = <span class="k">function</span>()</div>
<div class="ln" style="left:10.2px;top:137.5px">50</div>
<svg class="a" style="left:45.7px;top:141.7px" width="8" height="5" viewBox="0 0 8 5"><path d="M0.2 0.2H7.8L4 4.9Z" fill="#dedede"/></svg>
<div class="ln" style="left:62.6px;top:136.5px">            <span class="k">for</span> i = <span class="n">1</span>, <span class="n">50</span> <span class="k">do</span></div>
<div class="ln" style="left:10.2px;top:152.5px">51</div>
<div class="ln" style="left:62.6px;top:151.5px">                <span class="k">local</span> entity = ecs.<span class="f">entity</span>()</div>
<div class="ln" style="left:10.2px;top:167.5px">52</div>
<div class="ln" style="left:62.6px;top:166.5px">                ecs.<span class="f">set</span>(entity, A1, {})</div>
<div class="ln" style="left:10.2px;top:182.5px">53</div>
<div class="ln" style="left:62.6px;top:181.5px">            <span class="k">end</span></div>
<div class="ln" style="left:10.2px;top:197.5px">54</div>
<div class="ln" style="left:62.6px;top:196.5px">        <span class="k">end</span>,</div>
<div class="ln" style="left:10.2px;top:212.5px">55</div>
<div class="ln" style="left:10.2px;top:227.5px">56</div>
<svg class="a" style="left:45.7px;top:231.7px" width="8" height="5" viewBox="0 0 8 5"><path d="M0.2 0.2H7.8L4 4.9Z" fill="#dedede"/></svg>
<div class="ln" style="left:62.6px;top:226.5px">        ecr = <span class="k">function</span>()</div>
<div class="ln" style="left:10.2px;top:242.5px">57</div>
<svg class="a" style="left:45.7px;top:246.7px" width="8" height="5" viewBox="0 0 8 5"><path d="M0.2 0.2H7.8L4 4.9Z" fill="#dedede"/></svg>
<div class="ln" style="left:62.6px;top:241.5px">            <span class="k">for</span> i = <span class="n">1</span>, <span class="n">50</span> <span class="k">do</span></div>
<div class="ln" style="left:10.2px;top:257.5px">58</div>
<div class="ln" style="left:62.6px;top:256.5px">                <span class="k">local</span> entity = registry.<span class="f">create</span>()</div>
<div class="ln" style="left:10.2px;top:272.5px">59</div>
<div class="ln" style="left:62.6px;top:271.5px">                registry:<span class="f">set</span>(entity, C1, {})</div>
<div class="ln" style="left:10.2px;top:287.5px">60</div>
<div class="ln" style="left:62.6px;top:286.5px">            <span class="k">end</span></div>
<div class="ln" style="left:10.2px;top:302.5px">61</div>
<div class="ln" style="left:10.2px;top:317.5px">62</div>
<div class="ln" style="left:62.6px;top:316.5px">        <span class="k">end</span>,</div>
<div class="ln" style="left:10.2px;top:332.5px">63</div>
<div class="ln" style="left:10.2px;top:347.5px">64</div>
<svg class="a" style="left:45.7px;top:351.7px" width="8" height="5" viewBox="0 0 8 5"><path d="M0.2 0.2H7.8L4 4.9Z" fill="#dedede"/></svg>
<div class="ln" style="left:62.6px;top:346.5px">        method = <span class="k">function</span>()</div>
<div class="ln" style="left:10.2px;top:362.5px;color:#fff;font-weight:bold">65</div>
<svg class="a" style="left:45.7px;top:366.7px" width="8" height="5" viewBox="0 0 8 5"><path d="M0.2 0.2H7.8L4 4.9Z" fill="#dedede"/></svg>
<div class="ln" style="left:62.6px;top:361.5px">            <span class="k">for</span> i = <span class="n">1</span>, <span class="n">1000</span> <span class="k">do</span></div>
<div class="ln" style="left:10.2px;top:377.5px">66</div>
<div class="ln" style="left:62.6px;top:376.5px">                foo:<span class="f">bar</span>()</div>
<div class="ln" style="left:10.2px;top:392.5px">67</div>
<div class="ln" style="left:62.6px;top:391.5px">            <span class="k">end</span></div>
<div class="ln" style="left:10.2px;top:407.5px">68</div>
<div class="ln" style="left:62.6px;top:406.5px">        <span class="k">end</span>,</div>
<div class="ln" style="left:10.2px;top:422.5px">69</div>
<div class="ln" style="left:10.2px;top:437.5px">70</div>
<div class="ln" style="left:10.2px;top:452.5px">71</div>
<svg class="a" style="left:45.7px;top:456.7px" width="8" height="5" viewBox="0 0 8 5"><path d="M0.2 0.2H7.8L4 4.9Z" fill="#dedede"/></svg>
<div class="ln" style="left:62.6px;top:451.5px">        noop = <span class="k">function</span>()</div>
<div class="ln" style="left:10.2px;top:467.5px">72</div>
<svg class="a" style="left:45.7px;top:471.7px" width="8" height="5" viewBox="0 0 8 5"><path d="M0.2 0.2H7.8L4 4.9Z" fill="#dedede"/></svg>
<div class="ln" style="left:62.6px;top:466.5px">            <span class="k">for</span> i = <span class="n">1</span>, <span class="n">1000</span> <span class="k">do</span></div>
<div class="ln" style="left:10.2px;top:482.5px">73</div>
<div class="ln" style="left:62.6px;top:481.5px">                <span class="f">bar</span>()</div>
<div class="ln" style="left:10.2px;top:497.5px">74</div>
<div class="ln" style="left:62.6px;top:496.5px">            <span class="k">end</span></div>
<div class="ln" style="left:10.2px;top:512.5px">75</div>
<div class="ln" style="left:62.6px;top:511.5px">        <span class="k">end</span>,</div>
<div class="ln" style="left:10.2px;top:527.5px">76</div>
<div class="ln" style="left:62.6px;top:526.5px">    },</div>
</div>
<div class="a" style="left:1780px;top:619px;width:11px;height:540px;background:#292929;border-left:1px solid #202020;"></div>
<div class="a" style="left:1781px;top:621px;width:10px;height:13px;background:#3a3a3a;"></div>
<svg class="a" style="left:1782px;top:624.5px" width="8" height="5" viewBox="0 0 8 5"><path d="M0.3 4.4L4 0.6L7.7 4.4z" fill="#c8c8c8"/></svg>
<div class="a" style="left:1781px;top:817.5px;width:10px;height:158.5px;background:#3d3d3d;"></div>
<div class="a" style="left:1781px;top:927px;width:10px;height:1.5px;background:#e8e8e8;"></div>
<div class="a" style="left:1781px;top:1146px;width:10px;height:12px;background:#3a3a3a;"></div>
<svg class="a" style="left:1782px;top:1149.5px" width="8" height="5" viewBox="0 0 8 5"><path d="M0.3 0.6L4 4.4L7.7 0.6z" fill="#c8c8c8"/></svg>
</body></html>
